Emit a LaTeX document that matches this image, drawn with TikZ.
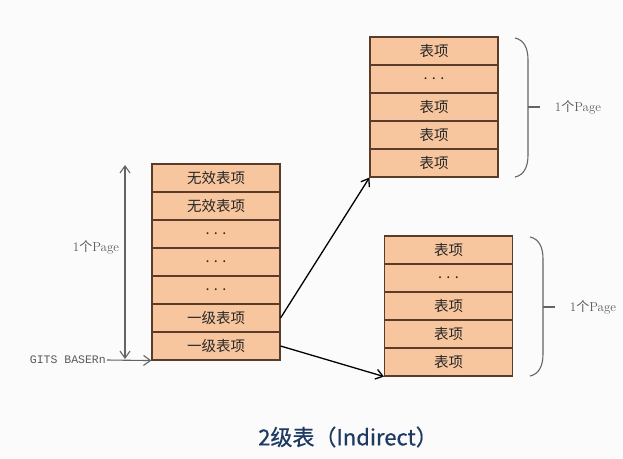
\documentclass[tikz,border=0pt]{standalone}
\usepackage{fontspec}
\newfontfamily\cjk{Noto Sans CJK SC}
\newfontfamily\cjktitle[FakeBold=0.6]{Noto Sans CJK SC}
\newfontfamily\gitsfont{Liberation Mono}
\usetikzlibrary{arrows.meta}
\definecolor{cellfill}{RGB}{248,198,158}
\definecolor{cellborder}{RGB}{90,60,40}
\definecolor{bggray}{RGB}{251,251,251}
\definecolor{linegray}{RGB}{100,100,100}
\definecolor{titleblue}{RGB}{30,58,98}
\tikzset{
  cell/.style={draw=cellborder, fill=cellfill, minimum width=128pt, minimum height=28pt,
    inner sep=0pt, line width=1.1pt, text=black!85, font=\cjk\fontsize{14.5}{14.5}\selectfont},
  lbl/.style={text=linegray!90!black, inner sep=1pt, font=\fontsize{13}{13}\selectfont},
  ptr/.style={line width=1.3pt, -{Straight Barb[length=7pt,width=10pt]}},
  brc/.style={draw=linegray, line width=1.1pt},
}
\begin{document}
\begin{tikzpicture}[x=1pt,y=-1pt]
\fill[bggray] (0,0) rectangle (623,458);
\useasboundingbox (0,0) rectangle (623,458);
% left stack
\node[cell] (L1) at (216,178) {无效表项};
\node[cell] (L2) at (216,206) {无效表项};
\node[cell] (L3) at (216,234) {. . .};
\node[cell] (L4) at (216,262) {. . .};
\node[cell] (L5) at (216,290) {. . .};
\node[cell] (L6) at (216,318) {一级表项};
\node[cell] (L7) at (216,346) {一级表项};
% top right stack
\node[cell] (A1) at (434,51) {表项};
\node[cell] (A2) at (434,79) {. . .};
\node[cell] (A3) at (434,107) {表项};
\node[cell] (A4) at (434,135) {表项};
\node[cell] (A5) at (434,163) {表项};
% bottom right stack
\node[cell] (B1) at (448.5,250) {表项};
\node[cell] (B2) at (448.5,278) {. . .};
\node[cell] (B3) at (448.5,306) {表项};
\node[cell] (B4) at (448.5,334) {表项};
\node[cell] (B5) at (448.5,362) {表项};
% pointers
\draw[ptr] (L6.east) -- (A5.south west);
\draw[ptr] (L7.east) -- (B5.south west);
% left page span
\coordinate (vtop) at (125,165);
\coordinate (vbot) at (125,359);
\draw[linegray, line width=1.1pt, {Straight Barb[length=7pt,width=10pt]}-{Straight Barb[length=7pt,width=10pt]}] (vbot) -- (vtop);
\node[lbl] (pl) at (96,247) {1{\cjk 个}Page};
\node[lbl, anchor=east, font=\gitsfont\fontsize{11.5}{11.5}\selectfont] (gits) at (107,360) {GITS BASERn};
\draw[linegray, line width=1.1pt, -{Straight Barb[length=7pt,width=10pt]}] (gits.east) -- (L7.south west);
% braces
\draw[brc] (515,38) .. controls (524,40) and (528,48) .. (528,60) -- (528,155)
  .. controls (528,167) and (524,175) .. (515,177);
\draw[brc] (528,107) -- (540,107);
\node[lbl] (pa) at (578,107) {1{\cjk 个}Page};
\draw[brc] (530,237) .. controls (539,239) and (543,247) .. (543,259) -- (543,354)
  .. controls (543,366) and (539,374) .. (530,376);
\draw[brc] (543,307) -- (555,307);
\node[lbl] (pb) at (593,307) {1{\cjk 个}Page};
% title
\node[text=titleblue, font=\cjktitle\fontsize{22}{22}\selectfont] (title) at (348,437) {2级表（Indirect）};
\end{tikzpicture}
\end{document}
